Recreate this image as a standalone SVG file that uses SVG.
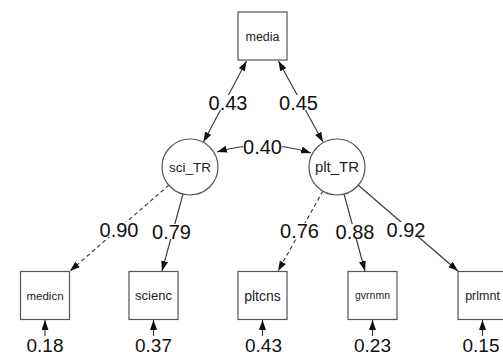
<svg xmlns="http://www.w3.org/2000/svg" width="503" height="356" viewBox="0 0 503 356">
<defs>
<marker id="ah" markerWidth="10" markerHeight="7" refX="10" refY="3.5" orient="auto-start-reverse" markerUnits="userSpaceOnUse">
<path d="M0,0 L10,3.5 L0,7 z" fill="#111"/>
</marker>
<style>
.box{fill:#fff;stroke:#555;stroke-width:1.2}
.lat{fill:#fff;stroke:#555;stroke-width:1.2}
.nl{font-family:"Liberation Sans",Arial,sans-serif;fill:#222;text-anchor:middle}
.e{stroke:#333;stroke-width:1.1;fill:none}
.d{stroke-dasharray:4,3}
.el{font-family:"Liberation Sans",Arial,sans-serif;font-size:20px;fill:#111;text-anchor:middle}
.eb{font-family:"Liberation Sans",Arial,sans-serif;font-size:19px;fill:#111;text-anchor:middle}
.bg{fill:#fff}
</style>
</defs>
<rect width="503" height="356" fill="#fff"/>
<g id="connectors">
<line class="e" x1="246.5" y1="61" x2="203.5" y2="142" marker-start="url(#ah)" marker-end="url(#ah)"/>
<line class="e" x1="278.5" y1="61" x2="323" y2="142" marker-start="url(#ah)" marker-end="url(#ah)"/>
<path class="e" d="M217,152 Q264,138 311,153" marker-start="url(#ah)" marker-end="url(#ah)"/>
<line class="e d" x1="169" y1="185" x2="70" y2="271" marker-end="url(#ah)"/>
<line class="e" x1="183" y1="194" x2="162" y2="271" marker-end="url(#ah)"/>
<line class="e d" x1="323" y1="191" x2="278" y2="271" marker-end="url(#ah)"/>
<line class="e" x1="344" y1="194" x2="365" y2="271" marker-end="url(#ah)"/>
<line class="e" x1="358" y1="185" x2="458" y2="271" marker-end="url(#ah)"/>
<line class="e" x1="45" y1="336" x2="45" y2="320" marker-end="url(#ah)"/>
<line class="e" x1="153.5" y1="336" x2="153.5" y2="320" marker-end="url(#ah)"/>
<line class="e" x1="262.5" y1="336" x2="262.5" y2="320" marker-end="url(#ah)"/>
<line class="e" x1="372.5" y1="336" x2="372.5" y2="320" marker-end="url(#ah)"/>
<line class="e" x1="482.5" y1="336" x2="482.5" y2="320" marker-end="url(#ah)"/>
<g id="edge-labels">
<rect class="bg" x="208.5" y="95" width="39" height="15"/><text class="el" x="228" y="110">0.43</text>
<rect class="bg" x="279" y="95" width="39" height="15"/><text class="el" x="298.5" y="110">0.45</text>
<rect class="bg" x="243" y="139.5" width="39" height="15"/><text class="el" x="262.5" y="154">0.40</text>
<rect class="bg" x="99.5" y="222" width="39" height="15"/><text class="el" x="119" y="237">0.90</text>
<rect class="bg" x="152" y="224" width="39" height="15"/><text class="el" x="171.5" y="239">0.79</text>
<rect class="bg" x="280" y="223" width="39" height="15"/><text class="el" x="299.5" y="238">0.76</text>
<rect class="bg" x="335.5" y="224" width="39" height="15"/><text class="el" x="355" y="239">0.88</text>
<rect class="bg" x="386.5" y="222" width="39" height="15"/><text class="el" x="406" y="237">0.92</text>
<text class="eb" x="45" y="352">0.18</text>
<text class="eb" x="153.5" y="352">0.37</text>
<text class="eb" x="263.5" y="352">0.43</text>
<text class="eb" x="372.5" y="352">0.23</text>
<text class="eb" x="481" y="352">0.15</text>
</g>
</g>
<g id="media"><rect class="box" x="238" y="12" width="49" height="48"/><text class="nl" x="262.5" y="40.5" font-size="12.5">media</text></g>
<g id="sci_TR"><circle class="lat" cx="190" cy="167" r="28"/><text class="nl" x="190" y="171.5" font-size="13.5">sci_TR</text></g>
<g id="plt_TR"><circle class="lat" cx="337" cy="167" r="28"/><text class="nl" x="337" y="172" font-size="15">plt_TR</text></g>
<g id="medicn"><rect class="box" x="20.5" y="271.5" width="49" height="48"/><text class="nl" x="45" y="299.5" font-size="11.5">medicn</text></g>
<g id="scienc"><rect class="box" x="129" y="271.5" width="49" height="48"/><text class="nl" x="153.5" y="300" font-size="13">scienc</text></g>
<g id="pltcns"><rect class="box" x="238" y="271.5" width="49" height="48"/><text class="nl" x="262.5" y="300.5" font-size="14">pltcns</text></g>
<g id="gvrnmn"><rect class="box" x="348" y="271.5" width="49" height="48"/><text class="nl" x="372.5" y="299" font-size="10.5">gvrnmn</text></g>
<g id="prlmnt"><rect class="box" x="458" y="271.5" width="49" height="48"/><text class="nl" x="482.5" y="300" font-size="12.5">prlmnt</text></g>
</svg>
